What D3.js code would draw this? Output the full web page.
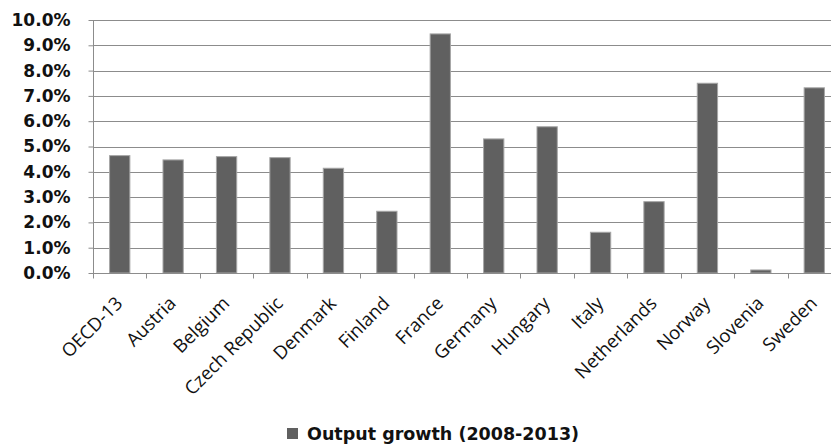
<!DOCTYPE html>
<html>
<head>
<meta charset="utf-8">
<script src="https://cdnjs.cloudflare.com/ajax/libs/d3/7.8.5/d3.min.js"></script>
<style>
body { margin: 0; background: #fff; }
svg { display: block; }
</style>
</head>
<body>
<div class="chart"></div>
<script>
var countries = ["OECD-13", "Austria", "Belgium", "Czech Republic", "Denmark", "Finland", "France",
    "Germany", "Hungary", "Italy", "Netherlands", "Norway", "Slovenia", "Sweden"];
var outputGrowth = [4.64, 4.47, 4.60, 4.56, 4.14, 2.44, 9.45, 5.30, 5.78, 1.61, 2.82, 7.50, 0.12, 7.32];
var yTicks = [0, 1, 2, 3, 4, 5, 6, 7, 8, 9, 10];
var seriesName = "Output growth (2008-2013)";

var svgWidth = 831;
var svgHeight = 448;

var margin = { top: 20, right: -10, bottom: 175, left: 93 };
var width = svgWidth - margin.left - margin.right;
var height = svgHeight - margin.top - margin.bottom;

var svg = d3.select(".chart")
    .append("svg")
    .attr("width", svgWidth)
    .attr("height", svgHeight);

var chartGroup = svg.append("g")
    .attr("transform", `translate(${margin.left}, ${margin.top})`);

var xScale = d3.scaleBand()
    .domain(countries)
    .range([0, width])
    .paddingInner(0.62)
    .paddingOuter(0.31);

var yScale = d3.scaleLinear()
    .domain([0, 10])
    .range([height, 0]);

// gridlines
chartGroup.selectAll(".grid")
    .data(yTicks.slice(1))
    .enter()
    .append("line")
    .attr("x1", 0)
    .attr("x2", width)
    .attr("y1", d => Math.round(yScale(d)) + 0.5)
    .attr("y2", d => Math.round(yScale(d)) + 0.5)
    .attr("stroke", "#8c8c8c")
    .attr("stroke-width", 1);

// y axis
var leftAxis = d3.axisLeft(yScale)
    .tickValues(yTicks)
    .tickSize(5)
    .tickPadding(18)
    .tickFormat(d => d.toFixed(1) + "%");

var yAxis = chartGroup.append("g")
    .attr("transform", "translate(0.5,0)")
    .attr("font-family", "DejaVu Sans")
    .call(leftAxis);
yAxis.select(".domain").attr("stroke", "#8c8c8c").attr("d", `M0,${height}V0`);
yAxis.selectAll(".tick line").attr("stroke", "#8c8c8c");
yAxis.selectAll(".tick text")
    .attr("fill", "#111")
    .attr("font-family", "DejaVu Sans")
    .attr("font-weight", "bold")
    .attr("font-size", 17);

// bars
chartGroup.selectAll(".bar")
    .data(countries)
    .enter()
    .append("rect")
    .attr("x", d => xScale(d))
    .attr("y", (d, i) => yScale(outputGrowth[i]))
    .attr("width", xScale.bandwidth())
    .attr("height", (d, i) => height - yScale(outputGrowth[i]))
    .attr("fill", "#606060")
    .attr("stroke", "#a6a6a6")
    .attr("stroke-width", 1);

// x axis baseline and boundary ticks
var step = xScale.step();
var xAxis = chartGroup.append("g")
    .attr("transform", `translate(0, ${Math.round(height) + 0.5})`);
xAxis.append("line")
    .attr("x1", 0).attr("x2", width)
    .attr("stroke", "#8c8c8c");
xAxis.selectAll(".xtick")
    .data(d3.range(countries.length + 1))
    .enter()
    .append("line")
    .attr("x1", d => Math.round(d * step) + 0.5)
    .attr("x2", d => Math.round(d * step) + 0.5)
    .attr("y1", 0)
    .attr("y2", 5)
    .attr("stroke", "#8c8c8c");

xAxis.selectAll(".xlabel")
    .data(countries)
    .enter()
    .append("text")
    .attr("transform", d => `translate(${xScale(d) + xScale.bandwidth() / 2 + 4}, 31) rotate(-45)`)
    .attr("text-anchor", "end")
    .attr("fill", "#111")
    .attr("font-family", "Open Sans")
    .attr("font-size", 18.5)
    .text(d => d);

// legend
var legend = svg.append("g")
    .attr("transform", "translate(287, 428)");
legend.append("rect")
    .attr("width", 11)
    .attr("height", 11)
    .attr("fill", "#606060");
legend.append("text")
    .attr("x", 20)
    .attr("y", 12)
    .attr("fill", "#111")
    .attr("font-family", "DejaVu Sans")
    .attr("font-weight", "bold")
    .attr("font-size", 17.5)
    .text(seriesName);
</script>
</body>
</html>
